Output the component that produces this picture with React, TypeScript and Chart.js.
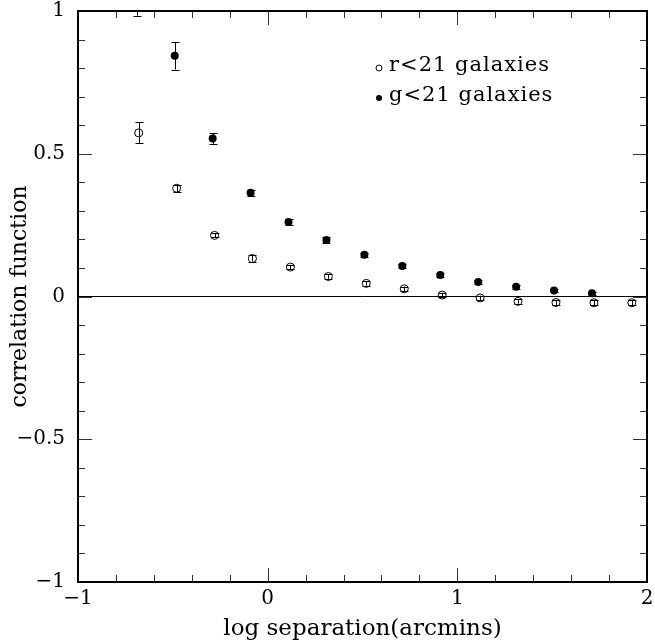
import React, { useEffect, useRef } from "react";
import { Chart, registerables } from "chart.js";

Chart.register(...registerables);

const rLabel = "r<21 galaxies";
const gLabel = "g<21 galaxies";
const xTitle = "log separation(arcmins)";
const yTitle = "correlation function";

const rX = [-0.68, -0.48, -0.28, -0.08, 0.12, 0.32, 0.52, 0.72, 0.92, 1.12, 1.32, 1.52, 1.72, 1.92];
const rY = [0.573, 0.379, 0.214, 0.133, 0.103, 0.07, 0.046, 0.027, 0.005, -0.005, -0.017, -0.021, -0.022, -0.022];
const rErr = [0.037, 0.013, 0.007, 0.011, 0.008, 0.008, 0.008, 0.008, 0.008, 0.008, 0.008, 0.008, 0.008, 0.008];

const gX = [-0.69, -0.49, -0.29, -0.09, 0.11, 0.31, 0.51, 0.71, 0.91, 1.11, 1.31, 1.51, 1.71];
const gY = [1.04, 0.843, 0.553, 0.363, 0.261, 0.198, 0.146, 0.107, 0.075, 0.051, 0.034, 0.021, 0.011];
const gErr = [0.056, 0.048, 0.018, 0.011, 0.011, 0.009, 0.008, 0.008, 0.007, 0.007, 0.006, 0.006, 0.006];

const xTickLabels: Record<string, string> = { "-1": "\u22121", "0": "0", "1": "1", "2": "2" };
const yTickLabels: Record<string, string> = { "-1": "\u22121", "-0.5": "\u22120.5", "0": "0", "0.5": "0.5", "1": "1" };

const FONT = "'DejaVu Serif', serif";

const errorBarPlugin = {
  id: "errorBars",
  beforeDatasetsDraw(chart: any) {
    const { ctx, chartArea, scales } = chart;
    const xs = scales.x;
    const ys = scales.y;
    ctx.save();
    ctx.beginPath();
    ctx.rect(chartArea.left, chartArea.top, chartArea.right - chartArea.left, chartArea.bottom - chartArea.top);
    ctx.clip();
    ctx.strokeStyle = "#000";
    ctx.lineWidth = 1;
    chart.data.datasets.forEach((ds: any) => {
      ds.data.forEach((p: any) => {
        const px = Math.round(xs.getPixelForValue(p.x)) + 0.5;
        const y1 = ys.getPixelForValue(p.y - p.e);
        const y2 = ys.getPixelForValue(p.y + p.e);
        ctx.beginPath();
        ctx.moveTo(px, y1);
        ctx.lineTo(px, y2);
        ctx.moveTo(px - 4, Math.round(y1) + 0.5);
        ctx.lineTo(px + 4, Math.round(y1) + 0.5);
        ctx.moveTo(px - 4, Math.round(y2) + 0.5);
        ctx.lineTo(px + 4, Math.round(y2) + 0.5);
        ctx.stroke();
      });
    });
    ctx.restore();
  },
};

const framePlugin = {
  id: "frame",
  afterDraw(chart: any) {
    const { ctx, chartArea, scales } = chart;
    const { left, right, top, bottom } = chartArea;
    const xs = scales.x;
    const ys = scales.y;
    ctx.save();
    ctx.strokeStyle = "#333";
    ctx.lineWidth = 1;
    ctx.beginPath();
    for (let i = 0; i <= 15; i++) {
      const v = -1 + i * 0.2;
      const px = Math.round(xs.getPixelForValue(v)) + 0.5;
      const len = i % 5 === 0 ? 14 : 7;
      ctx.moveTo(px, bottom);
      ctx.lineTo(px, bottom - len);
      ctx.moveTo(px, top);
      ctx.lineTo(px, top + len);
    }
    for (let i = 0; i <= 20; i++) {
      const v = -1 + i * 0.1;
      const py = Math.round(ys.getPixelForValue(v)) + 0.5;
      const len = i % 5 === 0 ? 14 : 7;
      ctx.moveTo(left, py);
      ctx.lineTo(left + len, py);
      ctx.moveTo(right, py);
      ctx.lineTo(right - len, py);
    }
    ctx.stroke();
    ctx.strokeStyle = "#000";
    ctx.lineWidth = 2;
    ctx.strokeRect(left, top, right - left, bottom - top);

    // legend
    ctx.font = `21px ${FONT}`;
    try {
      (ctx as any).letterSpacing = "1px";
    } catch (e) {}
    ctx.textBaseline = "middle";
    ctx.textAlign = "left";
    ctx.fillStyle = "#000";
    const lx = left + (right - left) * 0.529;
    chart.data.datasets.forEach((ds: any, i: number) => {
      const ly = top + 55 + i * 30;
      ctx.beginPath();
      ctx.lineWidth = 1;
      ctx.arc(lx, ly + 2, 3, 0, Math.PI * 2);
      if (ds.pointBackgroundColor === "#000") ctx.fill();
      else ctx.stroke();
      ctx.fillText(ds.label, lx + 10, ly);
    });
    ctx.restore();
  },
};

export default function App() {
  const ref = useRef<HTMLCanvasElement | null>(null);
  useEffect(() => {
    if (!ref.current) return;
    const chart = new Chart(ref.current, {
      type: "scatter",
      data: {
        datasets: [
          {
            label: rLabel,
            data: rX.map((x, i) => ({ x, y: rY[i], e: rErr[i] })),
            pointStyle: "circle",
            pointRadius: 4,
            pointBorderWidth: 1,
            pointBorderColor: "#000",
            pointBackgroundColor: "rgba(0,0,0,0)",
            clip: 0,
          },
          {
            label: gLabel,
            data: gX.map((x, i) => ({ x, y: gY[i], e: gErr[i] })),
            pointStyle: "circle",
            pointRadius: 4,
            pointBorderWidth: 0,
            pointBorderColor: "#000",
            pointBackgroundColor: "#000",
            clip: 0,
          },
        ] as any,
      },
      options: {
        animation: false,
        responsive: false,
        events: [],
        layout: { padding: { top: 11, right: 8, left: 0, bottom: 0 } },
        plugins: { legend: { display: false }, tooltip: { enabled: false } },
        scales: {
          x: {
            type: "linear",
            min: -1,
            max: 2,
            afterFit: (s: any) => {
              s.height = 61;
              s.paddingLeft = 0;
              s.paddingRight = 0;
            },
            afterBuildTicks: (s: any) => {
              s.ticks = [-1, 0, 1, 2].map((v) => ({ value: v }));
            },
            border: { display: false },
            grid: { display: false, drawTicks: false },
            ticks: {
              padding: 6,
              color: "#000",
              font: { family: FONT, size: 20, lineHeight: 1.1 },
              maxRotation: 0,
              callback: (v: any) => xTickLabels[String(v)] ?? "",
            },
            title: {
              display: true,
              text: xTitle,
              color: "#000",
              font: { family: FONT, size: 23, lineHeight: 1.2 },
              padding: { top: 0, bottom: 0 },
            },
          },
          y: {
            type: "linear",
            min: -1,
            max: 1,
            afterFit: (s: any) => {
              s.width = 78;
              s.paddingTop = 0;
              s.paddingBottom = 0;
            },
            afterBuildTicks: (s: any) => {
              s.ticks = [-1, -0.5, 0, 0.5, 1].map((v) => ({ value: v }));
            },
            border: { display: false },
            grid: {
              drawTicks: false,
              color: (c: any) => (c.tick && c.tick.value === 0 ? "#000" : "rgba(0,0,0,0)"),
              lineWidth: 1,
            },
            ticks: {
              padding: 13,
              color: "#000",
              font: { family: FONT, size: 20, lineHeight: 1.1 },
              callback: (v: any) => yTickLabels[String(v)] ?? "",
            },
            title: {
              display: true,
              text: yTitle,
              color: "#000",
              font: { family: FONT, size: 22, lineHeight: 1.2 },
              padding: { top: 7, bottom: 0 },
            },
          },
        },
      },
      plugins: [errorBarPlugin, framePlugin],
    });
    return () => chart.destroy();
  }, []);
  return (
    <div style={{ position: "absolute", left: 0, top: 0, width: 655, height: 643, background: "#fff" }}>
      <canvas ref={ref} width={655} height={643} />
    </div>
  );
}
